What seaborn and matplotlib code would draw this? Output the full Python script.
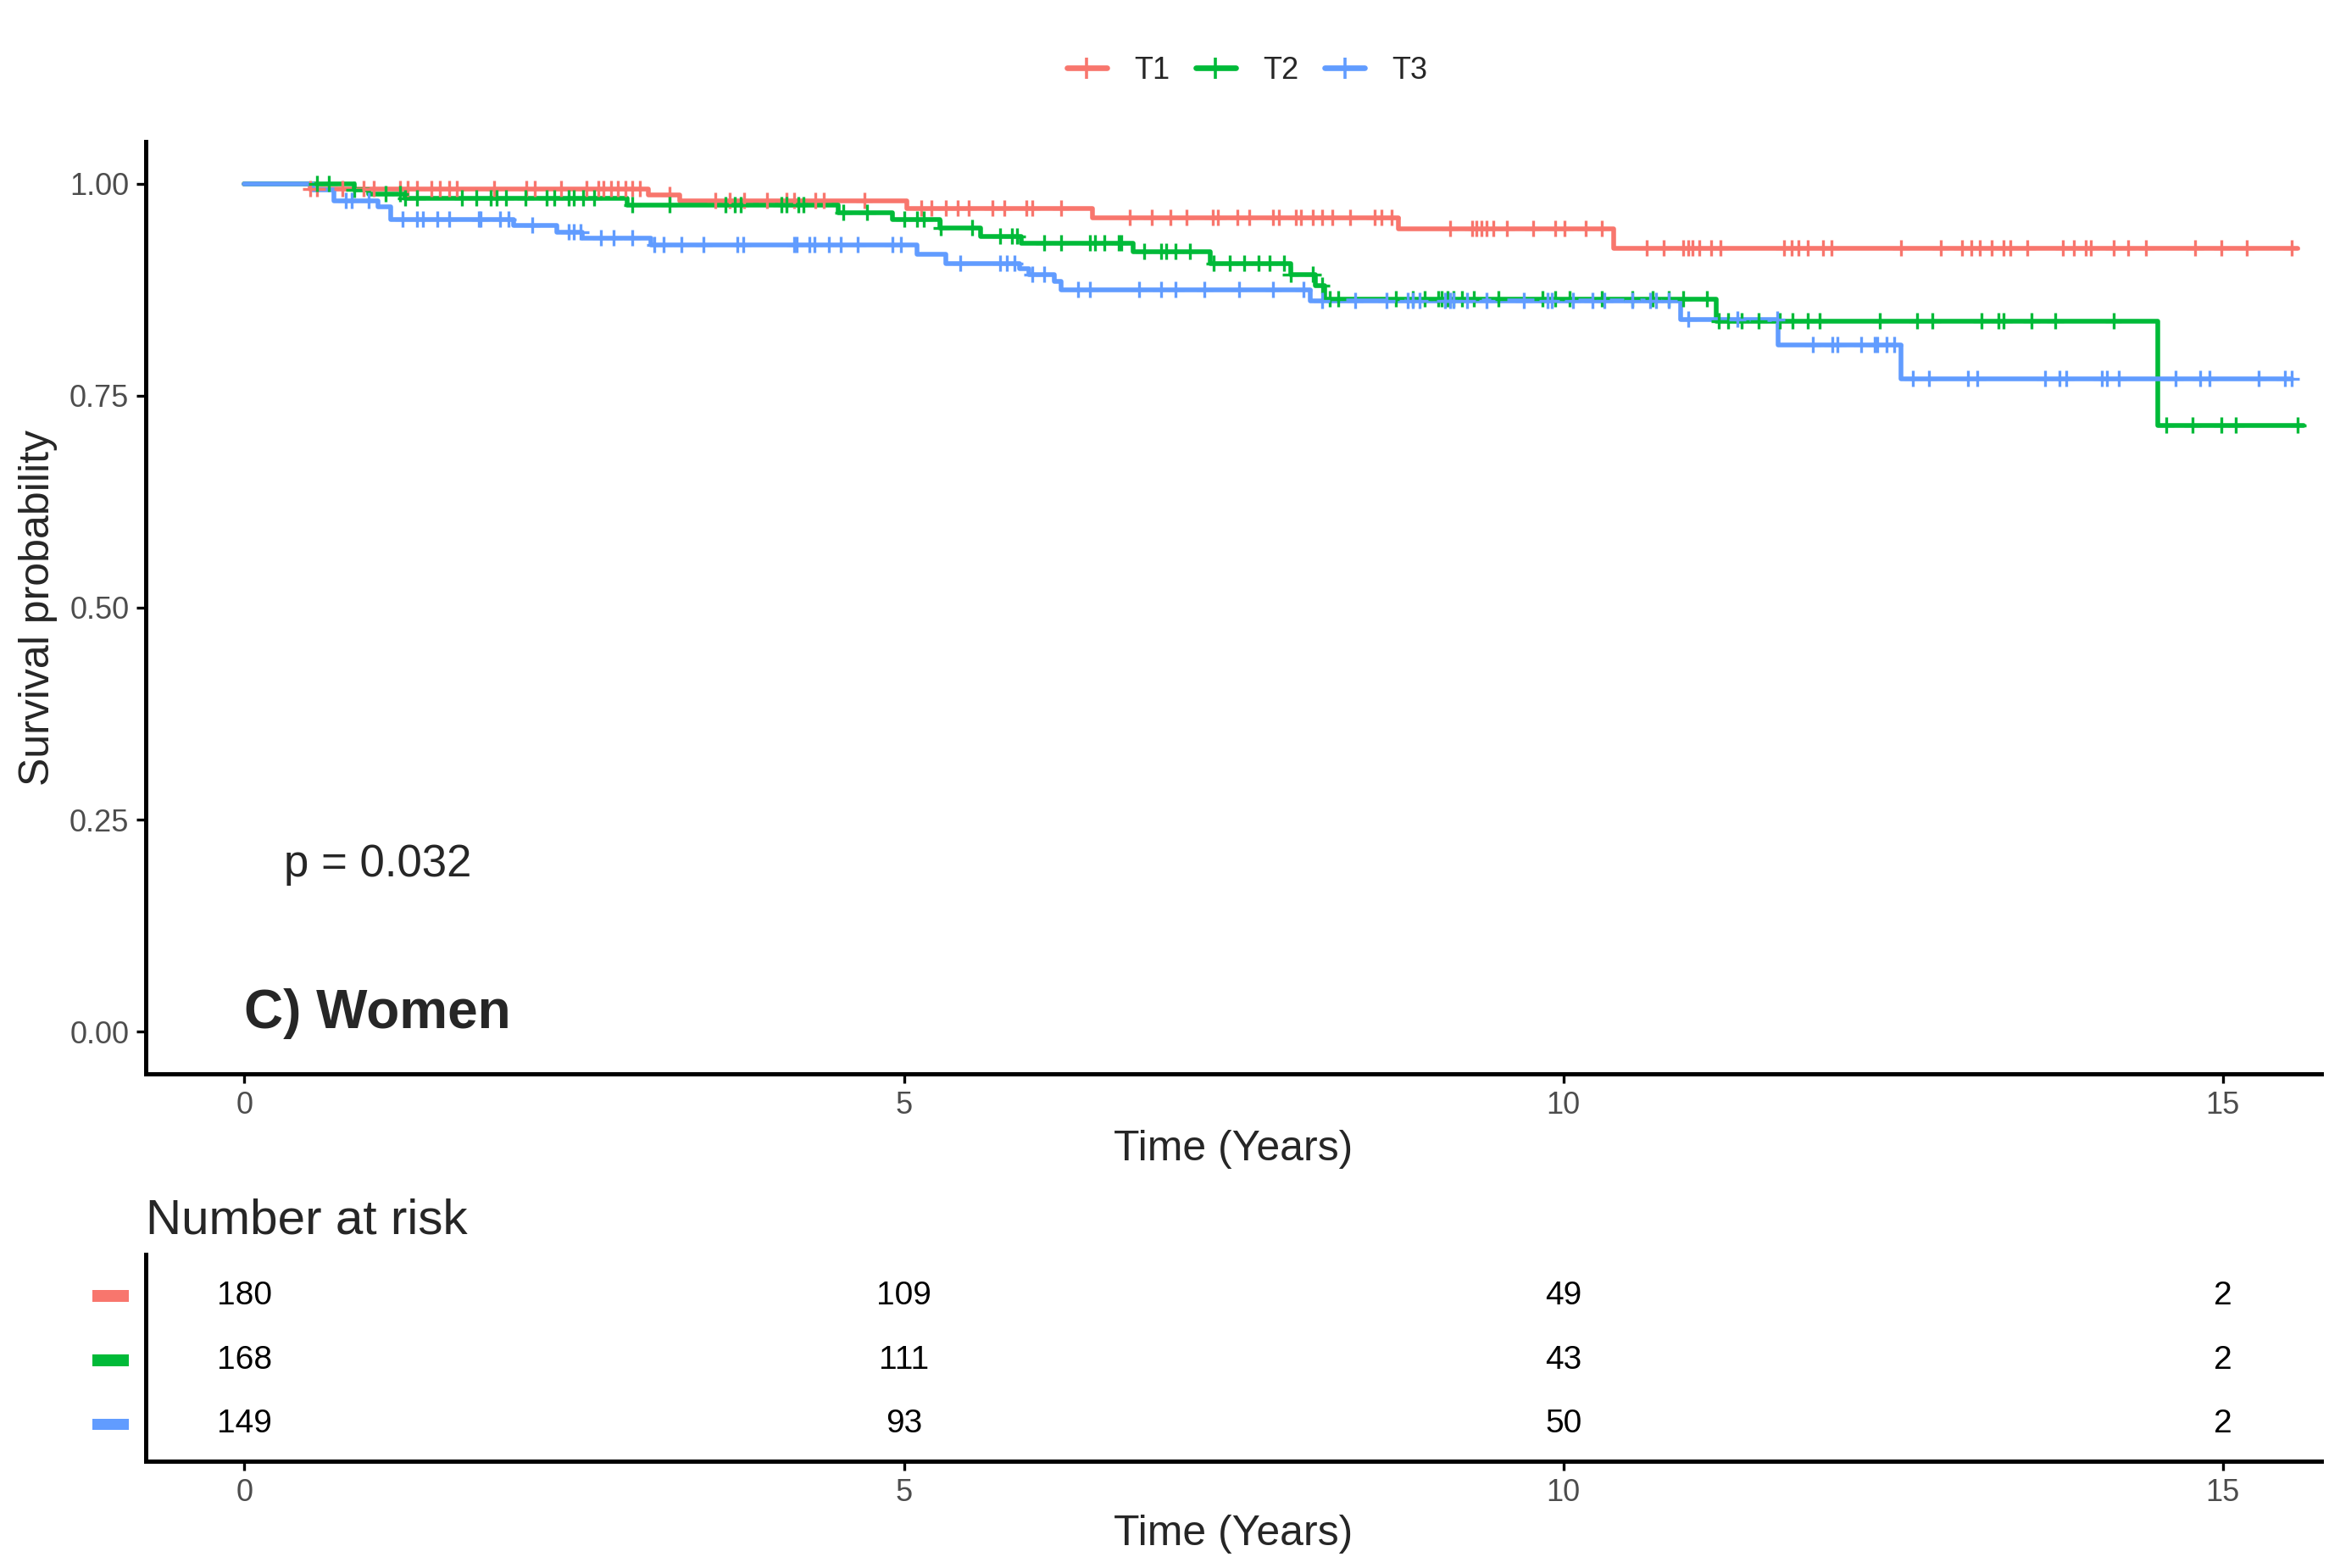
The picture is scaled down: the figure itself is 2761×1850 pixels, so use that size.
import numpy as np
import pandas as pd
import matplotlib
matplotlib.use("Agg")
import matplotlib.pyplot as plt
from matplotlib.lines import Line2D
from matplotlib.patches import Rectangle
import matplotlib.transforms as mtransforms
import seaborn as sns

# -------------------------------
# DATA
# -------------------------------
groups = ["T1", "T2", "T3"]
colors = ["#F8766D", "#00BA38", "#619CFF"]

# Kaplan-Meier steps: time (years) and survival after each step
t1_time = [0, 0.50, 3.06, 3.30, 5.02, 6.43, 8.75, 10.38, 15.57]
t1_surv = [1.0, 0.994, 0.987, 0.980, 0.971, 0.960, 0.947, 0.924, 0.924]

t2_time = [0, 0.83, 0.94, 1.22, 2.90, 4.50, 4.91, 5.27, 5.58, 5.89, 6.74,
           7.32, 7.93, 8.12, 8.19, 11.16, 14.51, 15.61]
t2_surv = [1.0, 0.993, 0.988, 0.983, 0.975, 0.966, 0.958, 0.948, 0.938, 0.930,
           0.920, 0.906, 0.893, 0.880, 0.864, 0.838, 0.715, 0.715]

t3_time = [0, 0.52, 0.68, 1.01, 1.11, 2.04, 2.37, 2.56, 3.08, 5.10, 5.32,
           5.88, 5.95, 6.14, 6.19, 8.08, 10.89, 11.63, 12.56, 15.52]
t3_surv = [1.0, 0.993, 0.980, 0.973, 0.958, 0.951, 0.943, 0.936, 0.928, 0.917,
           0.906, 0.900, 0.893, 0.885, 0.875, 0.862, 0.840, 0.810, 0.770, 0.770]

# censoring times
t1_cens = [0.50, 0.55, 0.74, 0.90, 0.98, 1.18, 1.24, 1.31, 1.42, 1.48, 1.55, 1.61,
           1.89, 2.14, 2.20, 2.40, 2.59, 2.68, 2.72, 2.78, 2.83, 2.89, 2.94, 3.00,
           3.22, 3.57, 3.68, 3.79, 3.96, 4.11, 4.17, 4.33, 4.39, 4.70, 5.13, 5.21,
           5.32, 5.41, 5.49, 5.67, 5.76, 5.93, 5.97, 6.19, 6.71, 6.88, 7.02, 7.14,
           7.34, 7.38, 7.53, 7.62, 7.80, 7.84, 7.97, 8.01, 8.10, 8.17, 8.25, 8.38,
           8.57, 8.62, 8.70, 9.14, 9.31, 9.34, 9.38, 9.42, 9.47, 9.57, 9.77, 9.94,
           10.01, 10.17, 10.29, 10.63, 10.76, 10.91, 10.95, 10.98, 11.03, 11.12,
           11.19, 11.67, 11.73, 11.78, 11.85, 11.97, 12.03, 12.56, 12.86, 13.02,
           13.09, 13.16, 13.25, 13.34, 13.39, 13.52, 13.79, 13.87, 13.96, 14.00,
           14.17, 14.28, 14.42, 14.79, 14.99, 15.18, 15.52]
t2_cens = [0.55, 0.64, 0.83, 1.07, 1.18, 1.22, 1.31, 1.65, 1.76, 1.87, 1.91, 1.98,
           2.13, 2.29, 2.35, 2.46, 2.50, 2.57, 2.65, 2.94, 3.22, 3.65, 3.72, 3.76,
           4.07, 4.11, 4.20, 4.24, 4.54, 4.72, 5.00, 5.10, 5.15, 5.28, 5.52, 5.73,
           5.82, 5.86, 6.06, 6.19, 6.41, 6.45, 6.52, 6.63, 6.65, 6.82, 6.95, 6.99,
           7.06, 7.17, 7.35, 7.47, 7.58, 7.69, 7.77, 7.88, 7.93, 8.10, 8.17, 8.23,
           8.29, 8.73, 8.86, 8.95, 9.05, 9.08, 9.12, 9.17, 9.23, 9.32, 9.51, 9.84,
           9.94, 10.05, 10.29, 10.52, 10.68, 10.80, 10.91, 11.09, 11.18, 11.25,
           11.35, 11.48, 11.64, 11.74, 11.85, 11.94, 12.40, 12.68, 12.80, 13.17,
           13.30, 13.34, 13.55, 13.73, 14.17, 14.57, 14.77, 14.99, 15.10, 15.57]
t3_cens = [0.77, 0.81, 0.94, 1.20, 1.31, 1.35, 1.46, 1.55, 1.78, 1.79, 1.94, 2.00,
           2.18, 2.46, 2.50, 2.55, 2.70, 2.80, 2.94, 3.11, 3.18, 3.31, 3.48, 3.74,
           3.78, 4.17, 4.19, 4.28, 4.32, 4.43, 4.52, 4.65, 4.91, 4.98, 5.43, 5.73,
           5.78, 5.84, 5.97, 6.06, 6.32, 6.41, 6.78, 6.95, 7.06, 7.28, 7.54, 7.80,
           8.03, 8.17, 8.42, 8.66, 8.82, 8.86, 8.91, 9.10, 9.14, 9.17, 9.27, 9.42,
           9.70, 9.88, 9.91, 10.07, 10.22, 10.31, 10.52, 10.66, 10.70, 10.80, 10.95,
           11.32, 11.62, 11.89, 12.04, 12.08, 12.26, 12.36, 12.38, 12.45, 12.51,
           12.65, 12.77, 13.07, 13.14, 13.65, 13.76, 13.81, 14.08, 14.12, 14.21,
           14.64, 14.83, 14.90, 15.27, 15.47, 15.52]

# number at risk
risk_times = [0, 5, 10, 15]
t1_risk = [180, 109, 49, 2]
t2_risk = [168, 111, 43, 2]
t3_risk = [149, 93, 50, 2]

p_text = "p = 0.032"
panel_title = "C) Women"

# -------------------------------
# BUILD TABLES
# -------------------------------
steps = {"T1": (t1_time, t1_surv), "T2": (t2_time, t2_surv), "T3": (t3_time, t3_surv)}
cens = {"T1": t1_cens, "T2": t2_cens, "T3": t3_cens}
risk = {"T1": t1_risk, "T2": t2_risk, "T3": t3_risk}

curve_df = pd.concat([pd.DataFrame({"time": t, "surv": s, "group": g})
                      for g, (t, s) in steps.items()], ignore_index=True)


def surv_at(g, x):
    t, s = steps[g]
    idx = np.searchsorted(t, x, side="right") - 1
    return np.asarray(s)[idx]


cens_df = pd.concat([pd.DataFrame({"time": c, "surv": surv_at(g, c), "group": g})
                     for g, c in cens.items()], ignore_index=True)

# -------------------------------
# STYLE
# -------------------------------
sns.set_style("white")
plt.rcParams["font.family"] = ["Liberation Sans", "DejaVu Sans"]
tick_grey = "#4D4D4D"
palette = dict(zip(groups, colors))

fig = plt.figure(figsize=(13.805, 9.25), dpi=200)


def classic_axes(a):
    sns.despine(ax=a)
    for side in ["left", "bottom"]:
        a.spines[side].set_linewidth(1.8)
        a.spines[side].set_color("black")


# -------------------------------
# SURVIVAL CURVES
# -------------------------------
ax = fig.add_axes([0.0622, 0.315, 0.93, 0.595])
sns.lineplot(data=curve_df, x="time", y="surv", hue="group", hue_order=groups,
             palette=palette, drawstyle="steps-post", estimator=None, sort=False,
             linewidth=2.0, legend=False, ax=ax)
sns.scatterplot(data=cens_df, x="time", y="surv", hue="group", hue_order=groups,
                palette=palette, marker="+", s=48, linewidth=1.2, legend=False,
                ax=ax, zorder=3)

ax.set_xlim(-0.75, 15.75)
ax.set_ylim(-0.05, 1.05)
ax.set_xticks([0, 5, 10, 15])
ax.set_yticks([0, 0.25, 0.5, 0.75, 1.0])
ax.set_yticklabels(["0.00", "0.25", "0.50", "0.75", "1.00"])
ax.set_xlabel("Time (Years)", fontsize=18, labelpad=4)
ax.set_ylabel("Survival probability", fontsize=18, labelpad=5)
ax.text(0.3, 0.197, p_text, fontsize=19, ha="left", va="center")
ax.text(0.0, 0.021, panel_title, fontsize=23, fontweight="bold", ha="left", va="center")

classic_axes(ax)
ax.tick_params(axis="both", length=4, width=1.2, color="black", labelsize=13,
               labelcolor=tick_grey, pad=3, left=True, bottom=True)

handles = [Line2D([], [], color=c, marker="+", markersize=9, mew=1.3, linewidth=2.4)
           for c in colors]
fig.legend(handles, groups, loc="center", bbox_to_anchor=(0.533, 0.955), ncol=3,
           frameon=False, fontsize=13, handlelength=1.3, handletextpad=0.9,
           columnspacing=0.85)

# -------------------------------
# NUMBER AT RISK TABLE
# -------------------------------
axt = fig.add_axes([0.0622, 0.068, 0.93, 0.132])
rows = {"T1": 3, "T2": 2, "T3": 1}
for g in groups:
    for t, n in zip(risk_times, risk[g]):
        axt.text(t, rows[g], str(n), fontsize=14, ha="center", va="center", color="black")

# colour keys left of the table axis
key_tr = mtransforms.blended_transform_factory(axt.transAxes, axt.transData)
for g, c in zip(groups, colors):
    axt.add_patch(Rectangle((-0.0244, rows[g] - 0.09), 0.0167, 0.18, transform=key_tr,
                            facecolor=c, edgecolor="none", clip_on=False))

axt.set_xlim(-0.75, 15.75)
axt.set_ylim(0.42, 3.65)
axt.set_xticks([0, 5, 10, 15])
axt.set_yticks([])
axt.set_xlabel("Time (Years)", fontsize=18, labelpad=3)
axt.set_ylabel("")
axt.set_title("Number at risk", loc="left", fontsize=21, pad=9)
classic_axes(axt)
axt.tick_params(axis="x", length=4, width=1.2, color="black", labelsize=13,
                labelcolor=tick_grey, pad=3, bottom=True)

fig.savefig("out.png", dpi=200)
